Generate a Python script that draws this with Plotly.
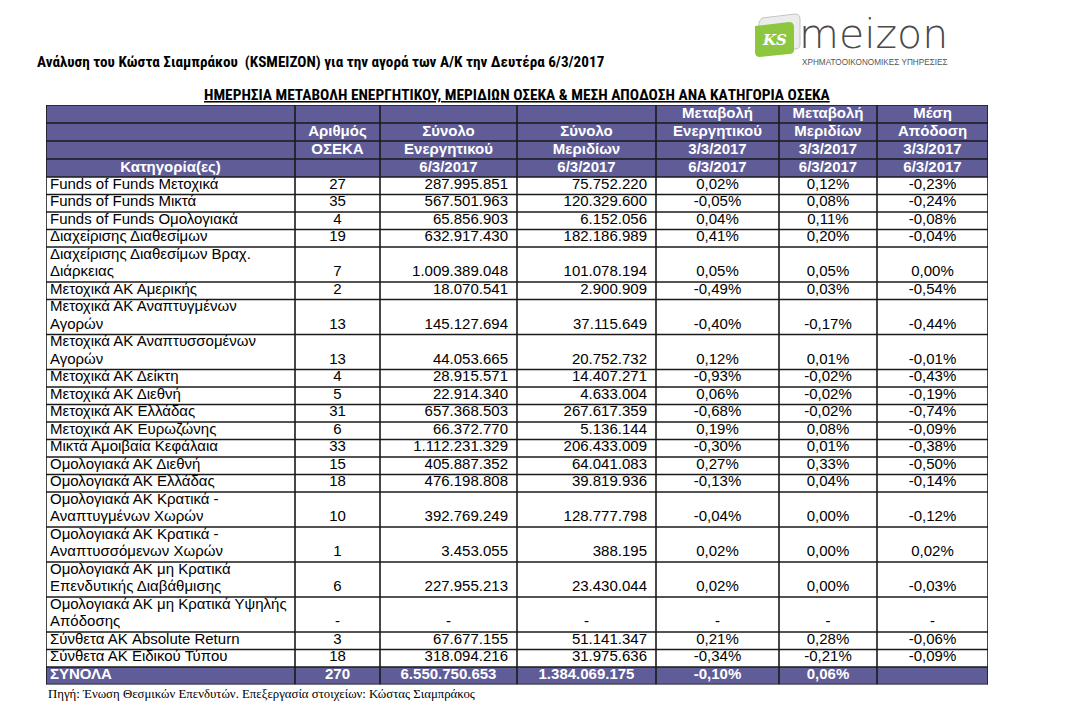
import plotly.graph_objects as go

# ---------------- data ----------------
categories = [
    "Funds of Funds Μετοχικά",
    "Funds of Funds Μικτά",
    "Funds of Funds Ομολογιακά",
    "Διαχείρισης Διαθεσίμων",
    "Διαχείρισης Διαθεσίμων Βραχ.\nΔιάρκειας",
    "Μετοχικά ΑΚ Αμερικής",
    "Μετοχικά ΑΚ Αναπτυγμένων\nΑγορών",
    "Μετοχικά ΑΚ Αναπτυσσομένων\nΑγορών",
    "Μετοχικά ΑΚ Δείκτη",
    "Μετοχικά ΑΚ Διεθνή",
    "Μετοχικά ΑΚ Ελλάδας",
    "Μετοχικά ΑΚ Ευρωζώνης",
    "Μικτά Αμοιβαία Κεφάλαια",
    "Ομολογιακά ΑΚ Διεθνή",
    "Ομολογιακά ΑΚ Ελλάδας",
    "Ομολογιακά ΑΚ Κρατικά -\nΑναπτυγμένων Χωρών",
    "Ομολογιακά ΑΚ Κρατικά -\nΑναπτυσσόμενων Χωρών",
    "Ομολογιακά ΑΚ μη Κρατικά\nΕπενδυτικής Διαβάθμισης",
    "Ομολογιακά ΑΚ μη Κρατικά Υψηλής\nΑπόδοσης",
    "Σύνθετα ΑΚ Absolute Return",
    "Σύνθετα ΑΚ Ειδικού Τύπου",
]
num_funds = [27, 35, 4, 19, 7, 2, 13, 13, 4, 5, 31, 6, 33, 15, 18, 10, 1, 6, None, 3, 18]
total_assets = [287995851, 567501963, 65856903, 632917430, 1009389048, 18070541,
                145127694, 44053665, 28915571, 22914340, 657368503, 66372770,
                1112231329, 405887352, 476198808, 392769249, 3453055, 227955213,
                None, 67677155, 318094216]
total_shares = [75752220, 120329600, 6152056, 182186989, 101078194, 2900909,
                37115649, 20752732, 14407271, 4633004, 267617359, 5136144,
                206433009, 64041083, 39819936, 128777798, 388195, 23430044,
                None, 51141347, 31975636]
chg_assets = [0.02, -0.05, 0.04, 0.41, 0.05, -0.49, -0.40, 0.12, -0.93, 0.06, -0.68,
              0.19, -0.30, 0.27, -0.13, -0.04, 0.02, 0.02, None, 0.21, -0.34]
chg_shares = [0.12, 0.08, 0.11, 0.20, 0.05, 0.03, -0.17, 0.01, -0.02, -0.02, -0.02,
              0.08, 0.01, 0.33, 0.04, 0.00, 0.00, 0.00, None, 0.28, -0.21]
avg_return = [-0.23, -0.24, -0.08, -0.04, 0.00, -0.54, -0.44, -0.01, -0.43, -0.19, -0.74,
              -0.09, -0.38, -0.50, -0.14, -0.12, 0.02, -0.03, None, -0.06, -0.09]
totals_label = "ΣΥΝΟΛΑ"
totals = [270, 6550750653, 1384069175, -0.10, 0.06, None]

header_rows = [
    ["", "", "", "", "Μεταβολή", "Μεταβολή", "Μέση"],
    ["", "Αριθμός", "Σύνολο", "Σύνολο", "Ενεργητικού", "Μεριδίων", "Απόδοση"],
    ["", "ΟΣΕΚΑ", "Ενεργητικού", "Μεριδίων", "3/3/2017", "3/3/2017", "3/3/2017"],
    ["Κατηγορία(ες)", "", "6/3/2017", "6/3/2017", "6/3/2017", "6/3/2017", "6/3/2017"],
]

title_text = "Ανάλυση του Κώστα Σιαμπράκου  (KSMEIZON) για την αγορά των Α/Κ την Δευτέρα 6/3/2017"
subtitle_text = "ΗΜΕΡΗΣΙΑ ΜΕΤΑΒΟΛΗ ΕΝΕΡΓΗΤΙΚΟΥ, ΜΕΡΙΔΙΩΝ ΟΣΕΚΑ & ΜΕΣΗ ΑΠΟΔΟΣΗ ΑΝΑ ΚΑΤΗΓΟΡΙΑ ΟΣΕΚΑ"
source_text = "Πηγή: Ένωση Θεσμικών Επενδυτών. Επεξεργασία στοιχείων: Κώστας Σιαμπράκος"

# ---------------- style / geometry ----------------
OFF = 8                      # page margin of the html body
W, H = 1068 - OFF, 705 - OFF  # figure size so it fits the window
TABLE_LEFT, TABLE_TOP = 46, 105   # in screen pixels
col_widths = [249, 85, 137, 139, 123, 98, 111]
HEAD_H = 18.0
ROW_H = 17.5
HEAD_FILL = "#605c98"
GRID = "#1a1a1a"
GRID_W = 1.6
FONT = "Liberation Sans, Arial, sans-serif"
NARROW = "Liberation Sans Narrow, Arial Narrow, Roboto Condensed, DejaVu Sans Condensed, sans-serif"
FS = 15
TXT_DY = -1.0
HEAD_DY = 0.4
col_align = ["left", "center", "right", "right", "center", "center", "center"]
PAD_L, PAD_R = 4, 9


def fmt_int(v):
    return "-" if v is None else f"{v:,}".replace(",", ".")


def fmt_pct(v):
    return "-" if v is None else f"{v:.2f}%".replace(".", ",")


def px(x):
    return (x - OFF) / W


def py(y):
    return 1 - (y - OFF) / H


col_x = [0]
for w in col_widths:
    col_x.append(col_x[-1] + w)
TW = col_x[-1]

# row layout
row_tops = []
y = 0.0
for _ in header_rows:
    row_tops.append(y)
    y += HEAD_H
header_bottom = y
data_spans = []
for c in categories:
    n = len(c.split("\n"))
    data_spans.append((y, n))
    y += n * ROW_H
totals_top = y
y += ROW_H
TH = y

xs, ys, texts, poss, colors = [], [], [], [], []


def add_text(col, yc, txt, align, bold=False, color="black"):
    if txt == "":
        return
    if align == "left":
        xs.append(col_x[col] + PAD_L)
        poss.append("middle right")
    elif align == "right":
        xs.append(col_x[col + 1] - PAD_R)
        poss.append("middle left")
    else:
        xs.append((col_x[col] + col_x[col + 1]) / 2)
        poss.append("middle center")
    ys.append(yc)
    texts.append(f"<b>{txt}</b>" if bold else txt)
    colors.append(color)


# header texts
for r, row in enumerate(header_rows):
    yc = row_tops[r] + HEAD_H / 2 + HEAD_DY
    for c, t in enumerate(row):
        add_text(c, yc, t, "center", bold=True, color="white")

# data texts
for i, cat in enumerate(categories):
    top, n = data_spans[i]
    lines = cat.split("\n")
    for k, ln in enumerate(lines):
        add_text(0, top + (k + 0.5) * ROW_H + TXT_DY, ln, "left")
    yb = top + (n - 0.5) * ROW_H + TXT_DY
    vals = [fmt_int(num_funds[i]), fmt_int(total_assets[i]), fmt_int(total_shares[i]),
            fmt_pct(chg_assets[i]), fmt_pct(chg_shares[i]), fmt_pct(avg_return[i])]
    for c, v in enumerate(vals, start=1):
        al = "center" if v == "-" else col_align[c]
        add_text(c, yb, v, al)

# totals
yt = totals_top + ROW_H / 2 + TXT_DY
add_text(0, yt, totals_label, "left", bold=True, color="white")
tvals = [fmt_int(totals[0]), fmt_int(totals[1]), fmt_int(totals[2]),
         fmt_pct(totals[3]), fmt_pct(totals[4]), "" if totals[5] is None else fmt_pct(totals[5])]
for c, v in enumerate(tvals, start=1):
    add_text(c, yt, v, "center", bold=True, color="white")

fig = go.Figure()
fig.add_trace(go.Scatter(
    x=xs, y=ys, text=texts, mode="text", textposition=poss,
    textfont=dict(family=FONT, size=FS, color=colors),
    hoverinfo="skip", showlegend=False, cliponaxis=False,
))

shapes = []
# fills
shapes.append(dict(type="rect", xref="x", yref="y", x0=0, x1=TW, y0=0, y1=header_bottom,
                   fillcolor=HEAD_FILL, line=dict(width=0), layer="below"))
shapes.append(dict(type="rect", xref="x", yref="y", x0=0, x1=TW, y0=totals_top, y1=TH,
                   fillcolor=HEAD_FILL, line=dict(width=0), layer="below"))
# grid lines
h_lines = row_tops + [header_bottom] + [s[0] for s in data_spans] + [totals_top, TH]
for yl in sorted(set(h_lines)):
    shapes.append(dict(type="line", xref="x", yref="y", x0=0, x1=TW, y0=yl, y1=yl,
                       line=dict(color=GRID, width=GRID_W), layer="below"))
for xl in col_x:
    shapes.append(dict(type="line", xref="x", yref="y", x0=xl, x1=xl, y0=0, y1=TH,
                       line=dict(color=GRID, width=GRID_W), layer="below"))

# logo decoration
shapes.append(dict(type="path", xref="paper", yref="paper",
                   path=f"M {px(762)},{py(18)} L {px(795)},{py(14)} Q {px(800)},{py(14)} {px(800)},{py(19)} "
                        f"L {px(800)},{py(44)} Q {px(800)},{py(49)} {px(795)},{py(49)} L {px(764)},{py(52)} "
                        f"Q {px(759)},{py(52)} {px(759)},{py(47)} L {px(759)},{py(22)} Z",
                   fillcolor="#ececec", line=dict(color="#c4c4c4", width=1), layer="below"))
shapes.append(dict(type="path", xref="paper", yref="paper",
                   path=f"M {px(755)},{py(26)} L {px(789)},{py(22)} Q {px(794)},{py(22)} {px(794)},{py(27)} "
                        f"L {px(794)},{py(50)} Q {px(794)},{py(54)} {px(789)},{py(54)} L {px(760)},{py(57)} "
                        f"Q {px(755)},{py(57)} {px(755)},{py(52)} Z",
                   fillcolor="#8dc63f", line=dict(width=0), layer="below"))

annotations = [
    dict(x=px(35), y=py(62), xref="paper", yref="paper", xanchor="left", yanchor="middle",
         text=f"<b>{title_text}</b>", showarrow=False,
         font=dict(family=NARROW, size=15.2, color="black")),
    dict(x=px(517), y=py(95), xref="paper", yref="paper", xanchor="center", yanchor="middle",
         text=f"<b><u>{subtitle_text}</u></b>", showarrow=False,
         font=dict(family=NARROW, size=15.4, color="black")),
    dict(x=px(46), y=py(694), xref="paper", yref="paper", xanchor="left", yanchor="middle",
         text=source_text, showarrow=False,
         font=dict(family="Liberation Serif, Times New Roman, serif", size=12.8, color="black")),
    dict(x=px(774), y=py(40), xref="paper", yref="paper", xanchor="center", yanchor="middle",
         text="<b><i>KS</i></b>", showarrow=False,
         font=dict(family="DejaVu Serif, serif", size=15, color="white")),
    dict(x=px(797), y=py(34), xref="paper", yref="paper", xanchor="left", yanchor="middle",
         text="meizon", showarrow=False,
         font=dict(family="DejaVu Sans, sans-serif", size=41, color="#4a4a4a", weight=200)),
    dict(x=px(800), y=py(62), xref="paper", yref="paper", xanchor="left", yanchor="middle",
         text="ΧΡΗΜΑΤΟΟΙΚΟΝΟΜΙΚΕΣ ΥΠΗΡΕΣΙΕΣ", showarrow=False,
         font=dict(family="Liberation Sans, Arial, sans-serif", size=8.2, color="#555555")),
]

fig.update_layout(
    width=W, height=H,
    margin=dict(l=0, r=0, t=0, b=0),
    paper_bgcolor="white", plot_bgcolor="white",
    xaxis=dict(visible=False, range=[0, TW],
               domain=[px(TABLE_LEFT), px(TABLE_LEFT + TW)], fixedrange=True),
    yaxis=dict(visible=False, range=[TH, 0],
               domain=[py(TABLE_TOP + TH), py(TABLE_TOP)], fixedrange=True),
    shapes=shapes,
    annotations=annotations,
    showlegend=False,
)

fig.write_html("out.html")
